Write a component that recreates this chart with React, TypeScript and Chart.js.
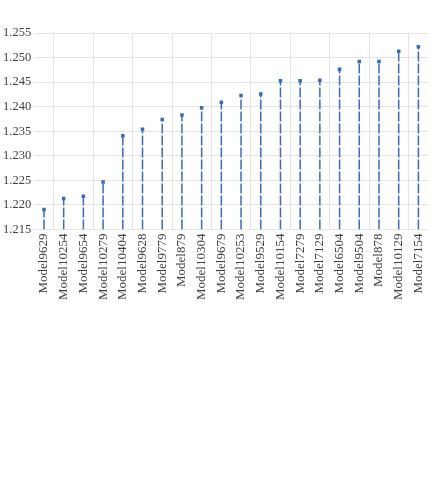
import React, { useEffect, useRef } from "react";
import { Chart, registerables } from "chart.js";

Chart.register(...registerables);

const categories: string[] = [
  "Model9629", "Model10254", "Model9654", "Model10279", "Model10404",
  "Model9628", "Model9779", "Model879", "Model10304", "Model9679",
  "Model10253", "Model9529", "Model10154", "Model7279", "Model7129",
  "Model6504", "Model9504", "Model878", "Model10129", "Model7154",
];

const values: number[] = [
  1.2191, 1.2213, 1.2218, 1.2247, 1.2341,
  1.2354, 1.2374, 1.2383, 1.2398, 1.2409,
  1.2423, 1.2426, 1.2453, 1.2453, 1.2454,
  1.2476, 1.2492, 1.2492, 1.2513, 1.2522,
];

const baseline = 1.215;
const yMin = 1.215;
const yMax = 1.255;
const yStep = 0.005;

export default function App() {
  const ref = useRef<HTMLCanvasElement | null>(null);

  useEffect(() => {
    if (!ref.current) return;
    const data: any[] = [];
    categories.forEach((c, i) => {
      data.push({ x: c, y: baseline });
      data.push({ x: c, y: values[i] });
      data.push({ x: c, y: null });
    });
    const font = { family: "'Liberation Serif', 'Times New Roman', serif", size: 13 };
    const chart = new Chart(ref.current, {
      type: "line",
      data: {
        labels: categories,
        datasets: [
          {
            data,
            borderColor: "#3a6bb8",
            backgroundColor: "#3a6bb8",
            borderWidth: 1.5,
            borderDash: [10, 2],
            spanGaps: false,
            pointStyle: "rect",
            pointRadius: (ctx: any) => (ctx.dataIndex % 3 === 1 ? 2.5 : 0),
            pointBorderWidth: 0,
            pointBackgroundColor: "#3a6bb8",
          } as any,
        ],
      },
      options: {
        animation: false,
        responsive: true,
        maintainAspectRatio: false,
        layout: { padding: { top: 33, right: 0, left: 0, bottom: 2 } },
        plugins: { legend: { display: false }, tooltip: { enabled: false } },
        scales: {
          x: {
            type: "category",
            offset: true,
            grid: {
              offset: true,
              drawTicks: false,
              color: (ctx: any) => (ctx.index % 2 === 1 ? "#e4e4e4" : "rgba(0,0,0,0)"),
            },
            border: { display: false },
            ticks: {
              autoSkip: false,
              maxRotation: 90,
              minRotation: 90,
              color: "#404040",
              font,
              padding: 4,
            },
          },
          y: {
            min: yMin,
            max: yMax,
            grid: { drawTicks: false, color: "#e4e4e4" },
            border: { display: false },
            ticks: {
              stepSize: yStep,
              color: "#404040",
              font: { family: font.family, size: 12.5 },
              padding: 3,
              callback: (v: any) => Number(v).toFixed(3),
            },
          },
        },
      },
    });
    return () => chart.destroy();
  }, []);

  return (
    <div style={{ position: "absolute", left: 0, top: 0, width: 429, height: 306, overflow: "hidden" }}>
      <div style={{ position: "relative", width: 438, height: 306 }}>
        <canvas ref={ref} />
      </div>
    </div>
  );
}
